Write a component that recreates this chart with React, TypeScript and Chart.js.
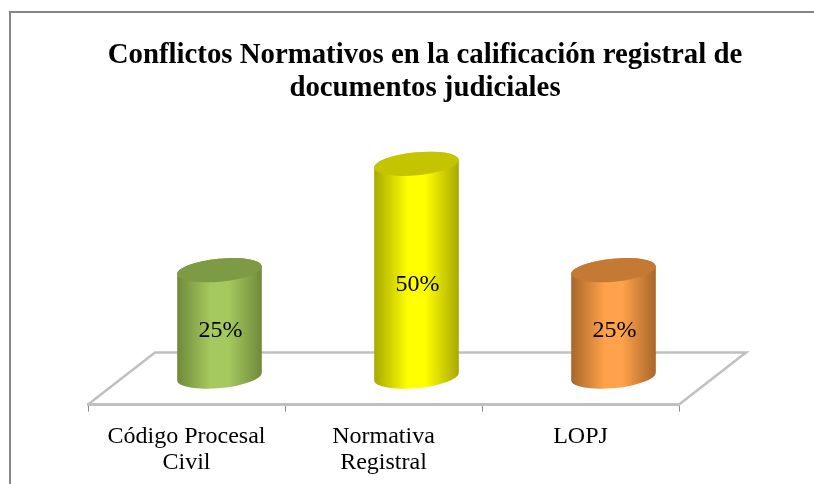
import React, { useEffect, useRef } from "react";
import { Chart, registerables } from "chart.js";

Chart.register(...registerables);

const categories = [["Código Procesal", "Civil"], ["Normativa", "Registral"], "LOPJ"];
const values = [25, 50, 25];
const centerColors = ["#a6c95f", "#ffff00", "#ffa24a"];
const edgeColors = ["#6f8a3a", "#a8a800", "#a8662a"];
const capColors = ["#7d9a45", "#c4c400", "#c47a35"];
const titleLines = ["Conflictos Normativos en la calificación registral de", "documentos judiciales"];
const FONT = '"Liberation Serif"';

const DEPTH_X = 67;
const DEPTH_Y = 52;
const SHIFT_X = 33;
const SHIFT_Y = 28;
const TILT = -0.095;
const CAP_RY = 11.5;

const scene = {
  id: "scene",
  beforeDraw(chart: any) {
    const { ctx } = chart;
    ctx.save();
    ctx.strokeStyle = "#868686";
    ctx.lineWidth = 2;
    ctx.strokeRect(10, 12, chart.width + 20, chart.height + 20);
    ctx.restore();
  },
  beforeDatasetsDraw(chart: any) {
    const { ctx, chartArea: a } = chart;
    ctx.save();
    ctx.strokeStyle = "#c0c0c0";
    ctx.lineWidth = 2.5;
    ctx.beginPath();
    ctx.moveTo(a.left, a.bottom);
    ctx.lineTo(a.left + DEPTH_X, a.bottom - DEPTH_Y);
    ctx.lineTo(a.right + DEPTH_X, a.bottom - DEPTH_Y);
    ctx.lineTo(a.right, a.bottom);
    ctx.stroke();
    ctx.restore();
  },
  beforeDatasetDraw(chart: any, args: any) {
    const { ctx } = chart;
    const meta = chart.getDatasetMeta(args.index);
    meta.data.forEach((bar: any, i: number) => {
      const cx = bar.x + SHIFT_X;
      const top = bar.y - SHIFT_Y;
      const base = bar.base - SHIFT_Y;
      const rx = bar.width / 2;
      ctx.save();
      const g = ctx.createLinearGradient(cx - rx, 0, cx + rx, 0);
      g.addColorStop(0, edgeColors[i]);
      g.addColorStop(0.4, centerColors[i]);
      g.addColorStop(0.6, centerColors[i]);
      g.addColorStop(1, edgeColors[i]);
      ctx.fillStyle = g;
      ctx.beginPath();
      ctx.ellipse(cx, base, rx, CAP_RY, TILT, 0, Math.PI);
      ctx.ellipse(cx, top, rx, CAP_RY, TILT, Math.PI, 2 * Math.PI);
      ctx.closePath();
      ctx.fill();
      ctx.fillStyle = capColors[i];
      ctx.beginPath();
      ctx.ellipse(cx, top, rx, CAP_RY, TILT, 0, 2 * Math.PI);
      ctx.fill();
      ctx.restore();
    });
    return false;
  },
  afterDatasetsDraw(chart: any) {
    const { ctx } = chart;
    const meta = chart.getDatasetMeta(0);
    ctx.save();
    ctx.fillStyle = "#000";
    ctx.font = `24px ${FONT}`;
    ctx.textAlign = "center";
    ctx.textBaseline = "middle";
    meta.data.forEach((bar: any, i: number) => {
      const base = bar.base - SHIFT_Y;
      const y = base - (bar.base - bar.y) * 0.43;
      ctx.fillText(`${values[i]}%`, bar.x + SHIFT_X + 1, y);
    });
    ctx.restore();
  },
};

const fixWidth = (w: number) => (scale: any) => {
  scale.width = w;
};

export default function App() {
  const ref = useRef<HTMLCanvasElement>(null);
  useEffect(() => {
    document.body.style.margin = "0";
    const hiddenAxis = {
      min: 0,
      max: 60,
      grid: { display: false },
      border: { display: false },
      ticks: { display: false },
    };
    const chart = new Chart(ref.current as HTMLCanvasElement, {
      type: "bar",
      data: {
        labels: categories as any,
        datasets: [{ data: values, barThickness: 85, backgroundColor: centerColors }],
      },
      options: {
        animation: false,
        responsive: false,
        layout: { padding: { left: 36, right: 0, top: 0, bottom: -4 } },
        scales: {
          x: {
            grid: { display: true, drawOnChartArea: false, drawTicks: true, tickLength: 7, color: "#8c8c8c", offset: true },
            border: { display: true, color: "#c0c0c0", width: 3 },
            ticks: {
              color: "#000",
              font: { family: FONT, size: 24, lineHeight: 1.05 },
              padding: 13,
              maxRotation: 0,
              autoSkip: false,
            },
          },
          y: { ...hiddenAxis, position: "left", afterFit: fixWidth(52) },
          y2: { ...hiddenAxis, position: "right", afterFit: fixWidth(135) },
        },
        plugins: {
          legend: { display: false },
          tooltip: { enabled: false },
          title: {
            display: true,
            text: titleLines,
            color: "#000",
            font: { family: FONT, size: 28.8, weight: "bold", lineHeight: 1.15 },
            padding: { top: 39, bottom: 44 },
          },
        },
      } as any,
      plugins: [scene],
    });
    return () => chart.destroy();
  }, []);
  return <canvas ref={ref} width={814} height={484} style={{ display: "block" }} />;
}
